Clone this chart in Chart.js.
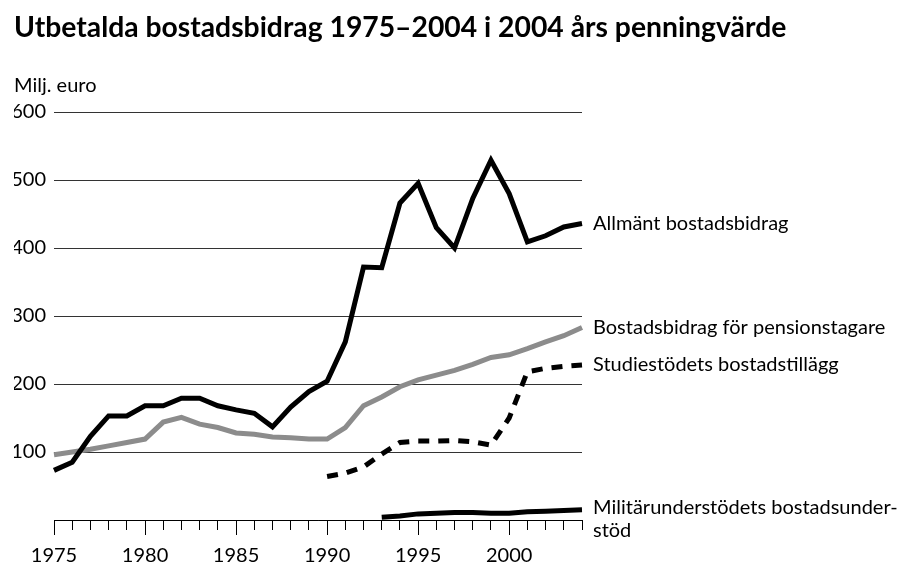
<!DOCTYPE html>
<html>
<head>
<meta charset="utf-8">
<script src="https://cdn.jsdelivr.net/npm/chart.js@4.4.1/dist/chart.umd.min.js"></script>
<style>
  body { margin: 0; background: #fff; }
  #wrap { width: 910px; height: 581px; }
</style>
</head>
<body>
<div id="wrap"><canvas id="line-chart" width="910" height="581"></canvas></div>
<script>
const years = [1975,1976,1977,1978,1979,1980,1981,1982,1983,1984,1985,1986,1987,1988,1989,
               1990,1991,1992,1993,1994,1995,1996,1997,1998,1999,2000,2001,2002,2003,2004];

const allmant = [73,85,123,153,153,168,168,179,179,168,162,157,137,166,189,
                 204,262,372,371,466,495,430,400,473,529,480,409,418,431,436];

const pension = [96,100,104,109,114,119,144,151,141,136,128,126,122,121,119,
                 119,136,168,181,196,206,213,220,229,239,243,252,262,271,283];

const studie = [null,null,null,null,null,null,null,null,null,null,null,null,null,null,null,
                64,69,78,97,114,116,116,117,115,110,150,218,223,226,228];

const militar = [null,null,null,null,null,null,null,null,null,null,null,null,null,null,null,
                 null,null,null,4,6,9,10,11,11,10,10,12,13,14,15];

const seriesNames = [
  ["Allmänt bostadsbidrag"],
  ["Bostadsbidrag för pensionstagare"],
  ["Studiestödets bostadstillägg"],
  ["Militärunderstödets bostadsunder-", "stöd"]
];

const yTicks = [100, 200, 300, 400, 500, 600];

const titleText = "Utbetalda bostadsbidrag 1975–2004 i 2004 års penningvärde";
const unitText = "Milj. euro";

const FONT = "Lato, 'Noto Sans', sans-serif";

// heading and unit, drawn left-aligned over the whole canvas
const heading = {
  id: 'heading',
  afterDraw(chart) {
    const ctx = chart.ctx;
    ctx.save();
    ctx.fillStyle = "#000";
    ctx.textAlign = "left";
    ctx.textBaseline = "alphabetic";
    ctx.font = "bold 28.3px " + FONT;
    ctx.fillText(titleText, 14, 37);
    ctx.font = "20px " + FONT;
    ctx.fillText(unitText, 14, 92);
    ctx.restore();
  }
};

// labels at the right end of each line
const endLabels = {
  id: 'endLabels',
  afterDatasetsDraw(chart) {
    const ctx = chart.ctx;
    ctx.save();
    ctx.font = "20px " + FONT;
    ctx.fillStyle = "#000";
    ctx.textBaseline = "middle";
    ctx.textAlign = "left";
    chart.data.datasets.forEach((ds, i) => {
      const meta = chart.getDatasetMeta(i);
      const last = meta.data[meta.data.length - 1];
      const x = chart.chartArea.right + 11;
      seriesNames[i].forEach((line, j) => {
        ctx.fillText(line, x, last.y - (i === 3 ? 2 : 0) + j * 23);
      });
    });
    ctx.restore();
  }
};

// longer ticks every fifth year
const majorTicks = {
  id: 'majorTicks',
  afterDraw(chart) {
    const xs = chart.scales.x;
    const ctx = chart.ctx;
    ctx.save();
    ctx.strokeStyle = "#000";
    ctx.lineWidth = 1;
    years.forEach((yr, i) => {
      if (yr % 5 === 0) {
        const x = Math.round(xs.getPixelForValue(i)) + 0.5;
        ctx.beginPath();
        ctx.moveTo(x, xs.top + 9);
        ctx.lineTo(x, xs.top + 15);
        ctx.stroke();
      }
    });
    ctx.restore();
  }
};

new Chart(document.getElementById("line-chart"), {
  type: 'line',
  data: {
    labels: years,
    datasets: [
      { data: allmant, borderColor: "#000", borderWidth: 5 },
      { data: pension, borderColor: "#8c8c8c", borderWidth: 5 },
      { data: studie, borderColor: "#000", borderWidth: 5, borderDash: [11, 9] },
      { data: militar, borderColor: "#000", borderWidth: 5 }
    ]
  },
  options: {
    responsive: false,
    animation: false,
    devicePixelRatio: 1,
    layout: { padding: { top: 112, left: 14, right: 328, bottom: 0 } },
    elements: {
      point: { radius: 0 },
      line: { tension: 0, borderCapStyle: 'butt', borderJoinStyle: 'miter' }
    },
    plugins: {
      legend: { display: false },
      tooltip: { enabled: false }
    },
    scales: {
      x: {
        type: 'category',
        offset: false,
        afterFit(scale) { scale.height = 61; },
        border: { display: true, color: '#000', width: 1 },
        grid: { drawOnChartArea: false, drawTicks: true, tickLength: 10, color: '#000' },
        ticks: {
          autoSkip: false,
          maxRotation: 0,
          color: '#000',
          padding: 14,
          font: { family: FONT, size: 20 },
          callback(val, i) { return years[i] % 5 === 0 ? String(years[i]) : ''; }
        }
      },
      y: {
        min: 0,
        max: 600,
        afterFit(scale) { scale.width = 40; },
        afterBuildTicks(scale) { scale.ticks = [0].concat(yTicks).map(v => ({ value: v })); },
        border: { display: false },
        grid: { drawTicks: false, color: '#333', lineWidth: 1 },
        ticks: {
          color: '#000',
          padding: 8,
          font: { family: FONT, size: 20 },
          callback(v) { return v === 0 ? '' : v; }
        }
      }
    }
  },
  plugins: [heading, endLabels, majorTicks]
});
</script>
</body>
</html>
